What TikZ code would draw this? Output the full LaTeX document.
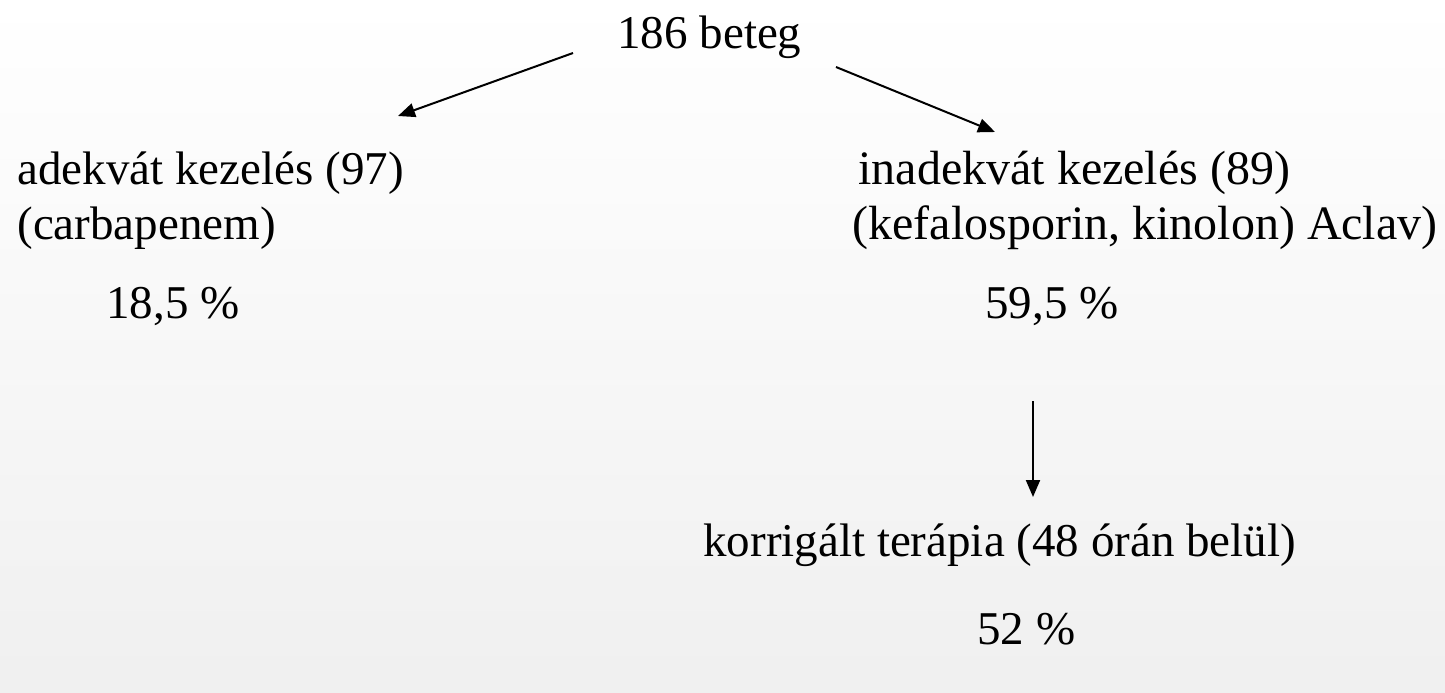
\documentclass[tikz,border=0pt]{standalone}
\usepackage{fontspec}
\setmainfont{Liberation Serif}
\usepackage{tikz}
\usetikzlibrary{arrows.meta}

\begin{document}
\begin{tikzpicture}[x=0.5pt,y=-0.5pt,>={Triangle[length=8.5pt,width=7pt]},line join=round,
  lbl/.style={inner sep=0pt,anchor=base west,font=\fontsize{#1}{28}\selectfont},
  lbl/.default=23.5,
  flow/.style={->,line width=1pt}]
  % background
  \shade[top color=white,bottom color=black!6] (0,0) rectangle (1445,692);
  \useasboundingbox (0,0) rectangle (1445,692);
  % texts
  \node[lbl] (root) at (617,48) {186 beteg};
  \node[lbl] (adek) at (17,184) {adekvát kezelés (97)};
  \node[lbl] (carba) at (17,239) {(carbapenem)};
  \node[lbl] (adekpct) at (106,318) {18,5 \%};
  \node[lbl=24] (inadek) at (858,184) {inadekvát kezelés (89)};
  \node[lbl=24] (kefa) at (852,239) {(kefalosporin, kinolon) Aclav)};
  \node[lbl] (inadekpct) at (985,318) {59,5 \%};
  \node[lbl] (korr) at (703,556) {korrigált terápia (48 órán belül)};
  \node[lbl] (korrpct) at (977,644) {52 \%};
  % arrow ends
  \coordinate (rootL) at (573,53);
  \coordinate (adekT) at (398,116);
  \coordinate (rootR) at (836,67);
  \coordinate (inadekT) at (995,132);
  \coordinate (pctB) at (1033,401);
  \coordinate (korrT) at (1033,497);
  \draw[flow] (rootL) -- (adekT);
  \draw[flow] (rootR) -- (inadekT);
  \draw[flow] (pctB) -- (korrT);
\end{tikzpicture}
\end{document}
